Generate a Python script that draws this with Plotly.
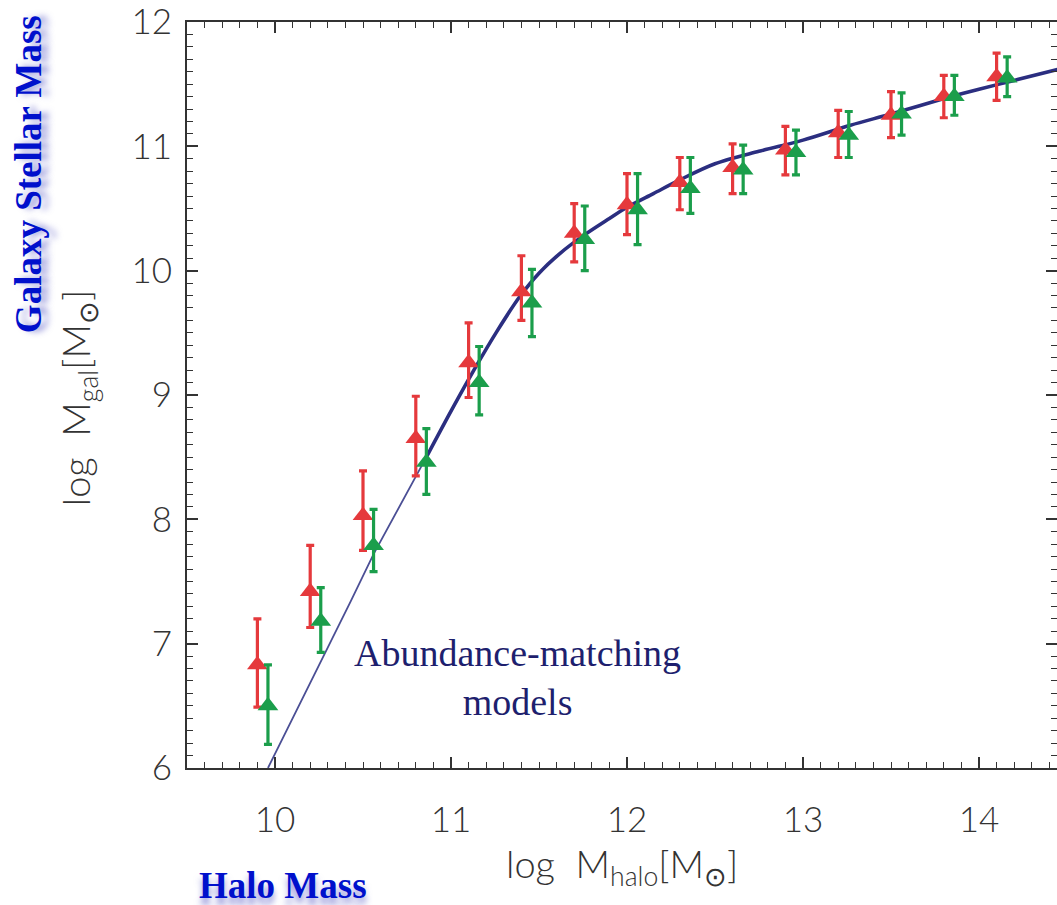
import plotly.graph_objects as go

# ---- data ----
red_x = [9.9, 10.2, 10.5, 10.8, 11.1, 11.4, 11.7, 12.0, 12.3, 12.6, 12.9, 13.2, 13.5, 13.8, 14.1]
red_y = [6.83, 7.42, 8.03, 8.65, 9.26, 9.83, 10.30, 10.53, 10.71, 10.83, 10.97, 11.11, 11.25, 11.40, 11.56]
red_top = [7.20, 7.79, 8.39, 8.99, 9.58, 10.12, 10.54, 10.78, 10.91, 11.02, 11.16, 11.29, 11.44, 11.57, 11.75]
red_bot = [6.49, 7.13, 7.75, 8.35, 8.98, 9.60, 10.07, 10.29, 10.49, 10.62, 10.77, 10.91, 11.07, 11.23, 11.37]

green_x = [9.96, 10.26, 10.56, 10.86, 11.16, 11.46, 11.76, 12.06, 12.36, 12.66, 12.96, 13.26, 13.56, 13.86, 14.16]
green_y = [6.50, 7.18, 7.79, 8.46, 9.10, 9.74, 10.25, 10.49, 10.66, 10.81, 10.95, 11.09, 11.26, 11.40, 11.55]
green_top = [6.83, 7.45, 8.08, 8.73, 9.39, 10.01, 10.52, 10.78, 10.91, 11.01, 11.13, 11.28, 11.43, 11.57, 11.72]
green_bot = [6.19, 6.93, 7.58, 8.20, 8.84, 9.47, 10.00, 10.21, 10.46, 10.62, 10.77, 10.91, 11.09, 11.25, 11.40]

model_x_low = [9.96, 10.2, 10.43, 10.56, 10.86]
model_y_low = [6.0, 6.68, 7.34, 7.72, 8.50]
model_x_high = [10.86, 11.0, 11.13, 11.26, 11.39, 11.5, 11.62, 11.75, 11.9, 12.0, 12.15, 12.3, 12.5,
                12.75, 13.0, 13.27, 13.5, 13.84, 14.0, 14.2, 14.45]
model_y_high = [8.50, 8.87, 9.20, 9.51, 9.79, 9.98, 10.14, 10.28, 10.42, 10.51, 10.62, 10.73, 10.86,
                10.96, 11.05, 11.17, 11.26, 11.40, 11.46, 11.53, 11.62]

x_tickvals = [10, 11, 12, 13, 14]
y_tickvals = [6, 7, 8, 9, 10, 11, 12]

RED = "#E5393C"
GREEN = "#1B9E4B"
NAVY = "#2B2E80"
AXC = "#333333"
TICKFONT = dict(family="Lato, 'Open Sans', sans-serif", size=35, color=AXC, weight=300)

fig = go.Figure()

fig.add_trace(go.Scatter(x=model_x_low, y=model_y_low, mode="lines",
                         line=dict(color="#4B4F95", width=1.8), showlegend=False,
                         hoverinfo="skip", cliponaxis=True))
fig.add_trace(go.Scatter(x=model_x_high, y=model_y_high, mode="lines",
                         line=dict(color=NAVY, width=3.6, shape="spline", smoothing=0.9),
                         showlegend=False, hoverinfo="skip", cliponaxis=True))


def err_trace(xs, ys, tops, bots, color):
    return go.Scatter(
        x=xs, y=ys, mode="markers",
        marker=dict(symbol="triangle-up", size=18, color=color, line=dict(width=0)),
        error_y=dict(type="data", symmetric=False,
                     array=[t - v for t, v in zip(tops, ys)],
                     arrayminus=[v - b for v, b in zip(ys, bots)],
                     color=color, thickness=3.2, width=4),
        showlegend=False, hoverinfo="skip")


fig.add_trace(err_trace(red_x, red_y, red_top, red_bot, RED))
fig.add_trace(err_trace(green_x, green_y, green_top, green_bot, GREEN))

# dummy trace to activate top/right mirror axes
fig.add_trace(go.Scatter(x=[None], y=[None], xaxis="x2", yaxis="y2", showlegend=False, hoverinfo="skip"))

axis_common = dict(showgrid=False, zeroline=False, ticks="inside", ticklen=11, tickwidth=1.6,
                   tickcolor=AXC, linecolor=AXC, linewidth=2,
                   minor=dict(ticks="inside", ticklen=6, tickwidth=1.4, tickcolor=AXC, dtick=0.1, showgrid=False))

XR = [9.5, 9.5 + 870 / 176.0]
YR = [6, 12]

fig.update_layout(
    width=1057, height=905,
    margin=dict(l=187, r=0, t=22, b=137),
    plot_bgcolor="white", paper_bgcolor="white",
    xaxis=dict(range=XR, tickvals=x_tickvals, ticktext=[str(v) for v in x_tickvals],
               showline=True, tickfont=TICKFONT, ticklabelstandoff=20,
               ticklabeloverflow="allow", **axis_common),
    yaxis=dict(range=YR, tickvals=y_tickvals, ticktext=[str(v) for v in y_tickvals],
               showline=True, tickfont=TICKFONT, ticklabelstandoff=6,
               ticklabeloverflow="allow", **axis_common),
    xaxis2=dict(range=XR, overlaying="x", side="top", anchor="y", tickvals=x_tickvals,
                showticklabels=False, showline=True, **axis_common),
    yaxis2=dict(range=YR, overlaying="y", side="right", anchor="x", tickvals=y_tickvals,
                showticklabels=False, showline=False, **axis_common),
)

TITLEFONT = dict(family="Lato, 'Open Sans', sans-serif", size=38, color=AXC, weight=300)
fig.add_annotation(text="log  M<sub>halo</sub>[M<sub>⊙</sub>]", xref="paper", yref="paper",
                   x=0.5, y=-0.131, xanchor="center", yanchor="middle", showarrow=False,
                   font=TITLEFONT)
fig.add_annotation(text="log  M<sub>gal</sub>[M<sub>⊙</sub>]", xref="paper", yref="paper",
                   x=-0.1253, y=0.497, xanchor="center", yanchor="middle", showarrow=False,
                   textangle=-90, font=TITLEFONT)

BLUEFONT = dict(family="'Liberation Serif', 'Times New Roman', serif", size=37, color="#0010CC",
                weight="bold", shadow="0px 7px 6px rgba(70,70,190,0.55)")
fig.add_annotation(text="Galaxy Stellar Mass", xref="paper", yref="paper",
                   x=-0.1828, y=0.796, xanchor="center", yanchor="middle", showarrow=False,
                   textangle=-90, font=BLUEFONT)
fig.add_annotation(text="Halo Mass", xref="paper", yref="paper",
                   x=0.1103, y=-0.158, xanchor="center", yanchor="middle", showarrow=False,
                   font=BLUEFONT)

fig.add_annotation(text="Abundance-matching<br>models", x=11.38, y=6.73, xref="x", yref="y",
                   xanchor="center", yanchor="middle", showarrow=False, align="center",
                   font=dict(family="'Liberation Serif', 'Times New Roman', serif", size=38,
                             color="#1E1F6E"))

fig.write_html("out.html")
